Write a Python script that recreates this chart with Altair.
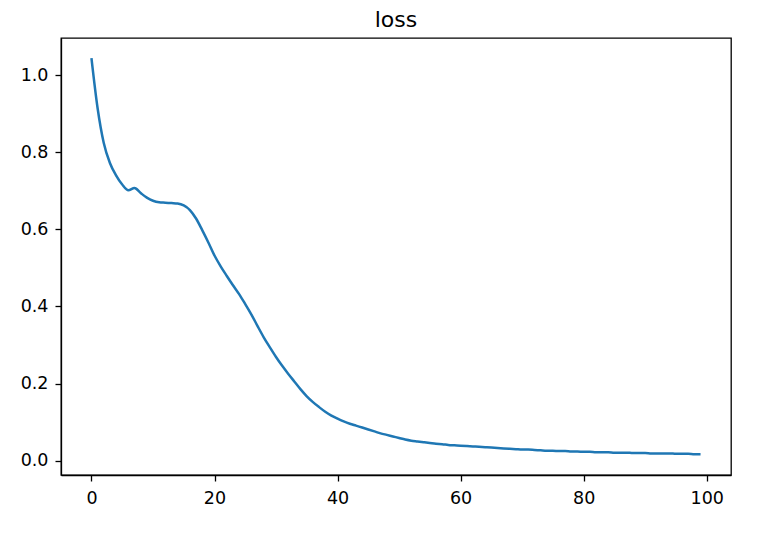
import altair as alt
import pandas as pd

epochs = list(range(100))
loss = [
    1.044, 0.914, 0.824, 0.772, 0.740, 0.716, 0.701, 0.707, 0.694, 0.682,
    0.674, 0.670, 0.669, 0.668, 0.667, 0.662, 0.650, 0.628, 0.598, 0.566,
    0.532, 0.504, 0.479, 0.455, 0.432, 0.406, 0.379, 0.349, 0.320, 0.294,
    0.269, 0.246, 0.225, 0.205, 0.185, 0.167, 0.152, 0.139, 0.127, 0.117,
    0.109, 0.102, 0.096, 0.091, 0.086, 0.081, 0.076, 0.071, 0.067, 0.063,
    0.059, 0.055, 0.052, 0.050, 0.048, 0.046, 0.044, 0.043, 0.041, 0.040,
    0.039, 0.038, 0.037, 0.036, 0.035, 0.034, 0.033, 0.032, 0.031, 0.030,
    0.029, 0.029, 0.028, 0.027, 0.026, 0.026, 0.025, 0.025, 0.024, 0.024,
    0.023, 0.023, 0.022, 0.022, 0.022, 0.021, 0.021, 0.021, 0.020, 0.020,
    0.020, 0.019, 0.019, 0.019, 0.019, 0.018, 0.018, 0.018, 0.017, 0.017,
]
x_ticks = [0, 20, 40, 60, 80, 100]
y_ticks = [0.0, 0.2, 0.4, 0.6, 0.8, 1.0]

df = pd.DataFrame({"epoch": epochs, "loss": loss})

FONT = "DejaVu Sans"

chart = (
    alt.Chart(df)
    .mark_line(color="#1f77b4", strokeWidth=2.5, clip=True, interpolate="monotone")
    .encode(
        x=alt.X(
            "epoch:Q",
            scale=alt.Scale(domain=[-4.95, 103.95], nice=False, zero=False),
            axis=alt.Axis(values=x_ticks, format="d", title=None, grid=False,
                          labelPadding=8),
        ),
        y=alt.Y(
            "loss:Q",
            scale=alt.Scale(domain=[-0.037, 1.096], nice=False, zero=False),
            axis=alt.Axis(values=y_ticks, format=".1f", title=None, grid=False,
                          labelPadding=7),
        ),
    )
    .properties(
        width=670,
        height=437,
        title=alt.TitleParams("loss", font=FONT, fontSize=22, fontWeight="normal",
                              color="black", anchor="middle", offset=6),
        autosize=alt.AutoSizeParams(type="none"),
        padding={"left": 53, "top": 30, "right": 21, "bottom": 53},
    )
    .configure_view(stroke="black", strokeWidth=1.3)
    .configure_axis(
        domainColor="black",
        domainWidth=1.3,
        tickColor="black",
        tickWidth=1.3,
        tickSize=6,
        labelFont=FONT,
        labelFontSize=17.5,
        labelColor="black",
    )
)

chart.save("out.html", embed_options={"renderer": "svg", "actions": False})
